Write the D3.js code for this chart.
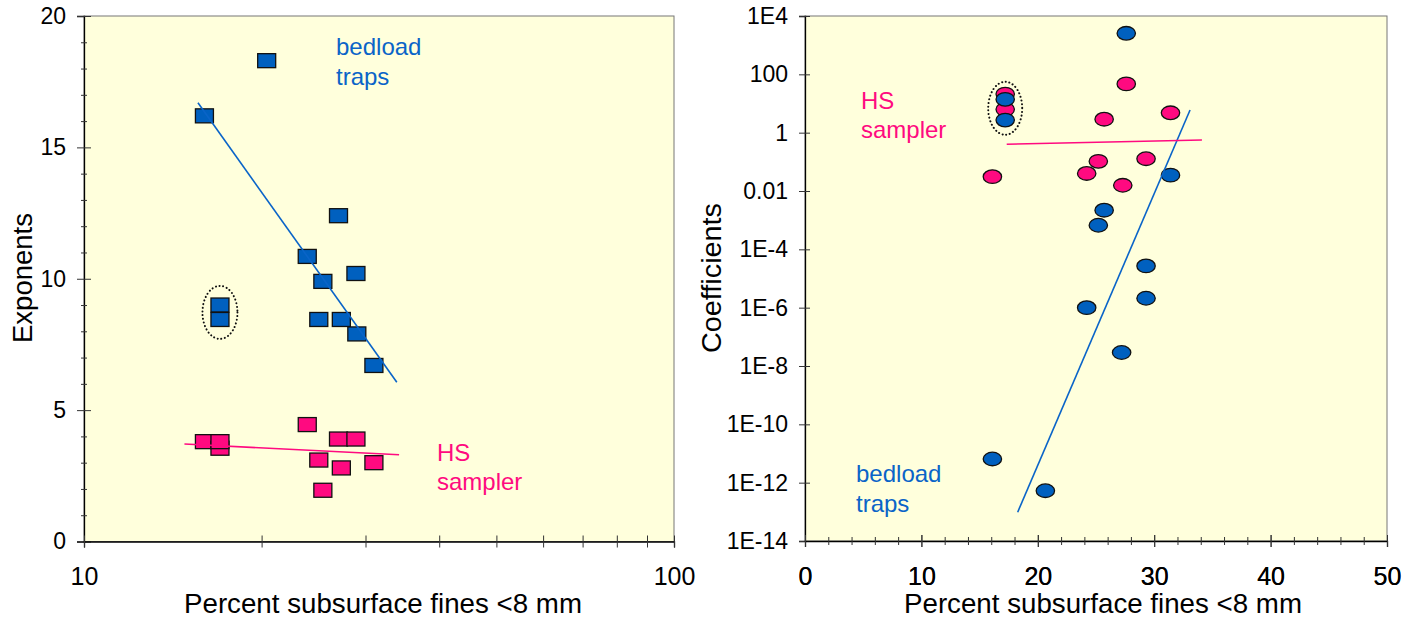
<!DOCTYPE html>
<html><head><meta charset="utf-8">
<script src="https://cdn.jsdelivr.net/npm/d3@7"></script>
<style>body{margin:0;background:#fff} text{font-family:"Liberation Sans",Arial,sans-serif}</style>
</head><body><svg id="c" width="1420" height="621"></svg>
<script>
// ---------- Data: left panel (exponents vs. fines, log x) ----------
const expBedFines = [16.0, 20.4, 17.0, 17.0, 23.9, 27.0, 25.4, 28.9, 25.0, 27.3, 29.0, 31.0];
const expBedVals  = [16.2, 18.3, 9.0, 8.45, 10.85, 12.4, 9.9, 10.2, 8.45, 8.45, 7.9, 6.7];
const expHSFines  = [16.0, 17.0, 17.0, 23.9, 27.0, 28.9, 25.0, 27.3, 25.4, 31.0];
const expHSVals   = [3.8, 3.55, 3.8, 4.45, 3.9, 3.9, 3.1, 2.8, 1.95, 3.0];
const expBedFitFines = [15.6, 33.9];
const expBedFitVals  = [16.7, 6.06];
const expHSFitFines  = [14.8, 34.2];
const expHSFitVals   = [3.71, 3.30];
const expXTicks = [10, 20, 30, 40, 50, 60, 70, 80, 90, 100];
const expXLabels = [10, 100];
const expYTicks = [0, 5, 10, 15, 20];

// ---------- Data: right panel (coefficients vs. fines, log y) ----------
const coefHSFines  = [17.2, 17.2, 27.6, 25.7, 31.4, 16.1, 25.2, 24.2, 29.3, 27.3];
const coefHSVals   = [21, 6.3, 47, 2.9, 4.8, 0.031, 0.104, 0.040, 0.128, 0.0157];
const coefBedFines = [17.2, 17.2, 27.6, 31.4, 25.7, 25.2, 29.3, 24.2, 29.3, 27.2, 16.1, 20.65];
const coefBedVals  = [13.9, 2.7, 2550, 0.035, 0.0022, 0.00067, 2.7e-5, 1.0e-6, 2.1e-6, 2.9e-8, 6.5e-12, 5.3e-13];
const coefBedFitFines = [18.27, 33.08];
const coefBedFitVals  = [9.7e-14, 6.0];
const coefHSFitFines  = [17.33, 34.1];
const coefHSFitVals   = [0.40, 0.56];
const coefXTicks = [0, 10, 20, 30, 40, 50];
const coefYTicks = [1e4, 1e2, 1, 1e-2, 1e-4, 1e-6, 1e-8, 1e-10, 1e-12, 1e-14];
const coefYLabels = ["1E4", "100", "1", "0.01", "1E-4", "1E-6", "1E-8", "1E-10", "1E-12", "1E-14"];

const xTitle = "Percent subsurface fines <8 mm";

// ---------- Styles ----------
const BLUE = "#0060BF", PINK = "#FF0A80", BG = "#FFFFDC";
const BLUE_TXT = "#0A64C8", PINK_TXT = "#FF0A80";
const FONT = '"Liberation Sans",Arial,sans-serif';
const YTICK_FS = 23, XTICK_FS = 25, NOTE_FS = 24, TITLE_FS = 27.5;

const svg = d3.select("#c");
svg.append("rect").attr("width", 1420).attr("height", 621).attr("fill", "#fff");

// ---------- Left panel ----------
const xL = d3.scaleLog().domain([10, 100]).range([84, 674]);
const yL = d3.scaleLinear().domain([0, 20]).range([541.5, 16]);
const gL = svg.append("g");
gL.append("rect").attr("x", 84).attr("y", 16).attr("width", 590).attr("height", 525.5)
  .attr("fill", BG).attr("stroke", "#777").attr("stroke-width", 1);

// y axis
const axL = gL.append("g").attr("transform", "translate(84,0)")
  .call(d3.axisLeft(yL).tickValues(d3.range(0, 21, 1)).tickSize(7).tickFormat(d => d % 5 === 0 ? d : ""));
axL.select(".domain").attr("stroke", "#000").attr("stroke-width", 1.3);
axL.selectAll(".tick line").attr("stroke", "#333")
  .attr("x1", d => d % 5 === 0 ? 7 : 3).attr("x2", d => d % 5 === 0 ? -7 : -3);
axL.selectAll(".tick text").attr("x", -18).attr("font-size", YTICK_FS).attr("fill", "#000")
  .attr("font-family", FONT);

// x axis
const axLx = gL.append("g").attr("transform", "translate(0,541.5)")
  .call(d3.axisBottom(xL).tickValues(expXTicks).tickSize(6).tickFormat(d => expXLabels.includes(d) ? d : ""));
axLx.select(".domain").attr("stroke", "#000").attr("stroke-width", 1.3);
axLx.selectAll(".tick line").attr("stroke", "#333").attr("y1", -6).attr("y2", 6);
axLx.selectAll(".tick text").attr("y", 26).attr("font-size", XTICK_FS).attr("fill", "#000")
  .attr("font-family", FONT);

// markers
const sqW = 18, sqH = 14;
gL.selectAll("rect.bed").data(expBedFines.map((f, i) => [f, expBedVals[i]])).join("rect")
  .attr("class", "bed").attr("x", d => xL(d[0]) - sqW / 2).attr("y", d => yL(d[1]) - sqH / 2)
  .attr("width", sqW).attr("height", sqH).attr("fill", BLUE).attr("stroke", "#111").attr("stroke-width", 1.3);
gL.selectAll("rect.hs").data(expHSFines.map((f, i) => [f, expHSVals[i]])).join("rect")
  .attr("class", "hs").attr("x", d => xL(d[0]) - sqW / 2).attr("y", d => yL(d[1]) - sqH / 2)
  .attr("width", sqW).attr("height", sqH).attr("fill", PINK).attr("stroke", "#111").attr("stroke-width", 1.3);

// fit lines
const lineL = d3.line().x(d => xL(d[0])).y(d => yL(d[1]));
gL.append("path").datum(expBedFitFines.map((f, i) => [f, expBedFitVals[i]]))
  .attr("d", lineL).attr("stroke", BLUE_TXT).attr("stroke-width", 1.6).attr("fill", "none");
gL.append("path").datum(expHSFitFines.map((f, i) => [f, expHSFitVals[i]]))
  .attr("d", lineL).attr("stroke", PINK_TXT).attr("stroke-width", 1.6).attr("fill", "none");

// dotted ellipse
gL.append("ellipse").attr("cx", xL(17.0)).attr("cy", yL(8.72)).attr("rx", 17.5).attr("ry", 26.5)
  .attr("fill", "none").attr("stroke", "#111").attr("stroke-width", 2)
  .attr("stroke-dasharray", "0.1,3.6").attr("stroke-linecap", "round");

// labels
function twoLine(g, x, y1, y2, a, b, col) {
  g.append("text").attr("x", x).attr("y", y1).attr("font-size", NOTE_FS).attr("fill", col).text(a);
  g.append("text").attr("x", x).attr("y", y2).attr("font-size", NOTE_FS).attr("fill", col).text(b);
}
twoLine(gL, 336, 55, 84.5, "bedload", "traps", BLUE_TXT);
twoLine(gL, 437, 460.5, 490, "HS", "sampler", PINK_TXT);

gL.append("text").attr("x", 383).attr("y", 613).attr("text-anchor", "middle")
  .attr("font-size", TITLE_FS).attr("textLength", 398).attr("lengthAdjust", "spacingAndGlyphs").text(xTitle);
gL.append("text").attr("transform", "translate(31.5,278) rotate(-90)").attr("text-anchor", "middle")
  .attr("font-size", TITLE_FS).attr("textLength", 130).attr("lengthAdjust", "spacingAndGlyphs").text("Exponents");

// ---------- Right panel ----------
const xR = d3.scaleLinear().domain([0, 50]).range([805, 1387]);
const yR = d3.scaleLog().domain([1e-14, 1e4]).range([541, 16]);
const gR = svg.append("g");
gR.append("rect").attr("x", 805).attr("y", 16).attr("width", 582).attr("height", 525)
  .attr("fill", BG).attr("stroke", "#777").attr("stroke-width", 1);

const axR = gR.append("g").attr("transform", "translate(805,0)")
  .call(d3.axisLeft(yR).tickValues(coefYTicks).tickSize(6).tickFormat((d, i) => coefYLabels[i]));
axR.select(".domain").attr("stroke", "#000").attr("stroke-width", 1.3);
axR.selectAll(".tick line").attr("stroke", "#333").attr("x1", 5).attr("x2", -6);
axR.selectAll(".tick text").attr("x", -17).attr("font-size", YTICK_FS).attr("fill", "#000")
  .attr("font-family", FONT);

const axRx = gR.append("g").attr("transform", "translate(0,541)")
  .call(d3.axisBottom(xR).tickValues(d3.range(0, 51, 2).concat(coefXTicks)).tickSize(6)
    .tickFormat(d => coefXTicks.includes(d) ? d : ""));
axRx.select(".domain").attr("stroke", "#000").attr("stroke-width", 1.3);
axRx.selectAll(".tick line").attr("stroke", "#333")
  .attr("y1", d => d % 10 === 0 ? -6 : -4).attr("y2", d => d % 10 === 0 ? 6 : 4);
axRx.selectAll(".tick text").attr("y", 26).attr("font-size", XTICK_FS).attr("fill", "#000")
  .attr("font-family", FONT);

const eRx = 9.2, eRy = 6.8;
gR.selectAll("ellipse.hs").data(coefHSFines.map((f, i) => [f, coefHSVals[i]])).join("ellipse")
  .attr("class", "hs").attr("cx", d => xR(d[0])).attr("cy", d => yR(d[1])).attr("rx", eRx).attr("ry", eRy)
  .attr("fill", PINK).attr("stroke", "#111").attr("stroke-width", 1.3);
gR.selectAll("ellipse.bed").data(coefBedFines.map((f, i) => [f, coefBedVals[i]])).join("ellipse")
  .attr("class", "bed").attr("cx", d => xR(d[0])).attr("cy", d => yR(d[1])).attr("rx", eRx).attr("ry", eRy)
  .attr("fill", BLUE).attr("stroke", "#111").attr("stroke-width", 1.3);

const lineR = d3.line().x(d => xR(d[0])).y(d => yR(d[1]));
gR.append("path").datum(coefBedFitFines.map((f, i) => [f, coefBedFitVals[i]]))
  .attr("d", lineR).attr("stroke", BLUE_TXT).attr("stroke-width", 1.6).attr("fill", "none");
gR.append("path").datum(coefHSFitFines.map((f, i) => [f, coefHSFitVals[i]]))
  .attr("d", lineR).attr("stroke", PINK_TXT).attr("stroke-width", 1.6).attr("fill", "none");

gR.append("ellipse").attr("cx", xR(17.2)).attr("cy", yR(6.86)).attr("rx", 17).attr("ry", 26.5)
  .attr("fill", "none").attr("stroke", "#111").attr("stroke-width", 2)
  .attr("stroke-dasharray", "0.1,3.6").attr("stroke-linecap", "round");

twoLine(gR, 861, 108.5, 138, "HS", "sampler", PINK_TXT);
twoLine(gR, 856, 482, 511.5, "bedload", "traps", BLUE_TXT);

gR.append("text").attr("x", 1103).attr("y", 613).attr("text-anchor", "middle")
  .attr("font-size", TITLE_FS).attr("textLength", 398).attr("lengthAdjust", "spacingAndGlyphs").text(xTitle);
gR.append("text").attr("transform", "translate(720.5,278) rotate(-90)").attr("text-anchor", "middle")
  .attr("font-size", TITLE_FS).attr("textLength", 150).attr("lengthAdjust", "spacingAndGlyphs").text("Coefficients");
</script></body></html>
